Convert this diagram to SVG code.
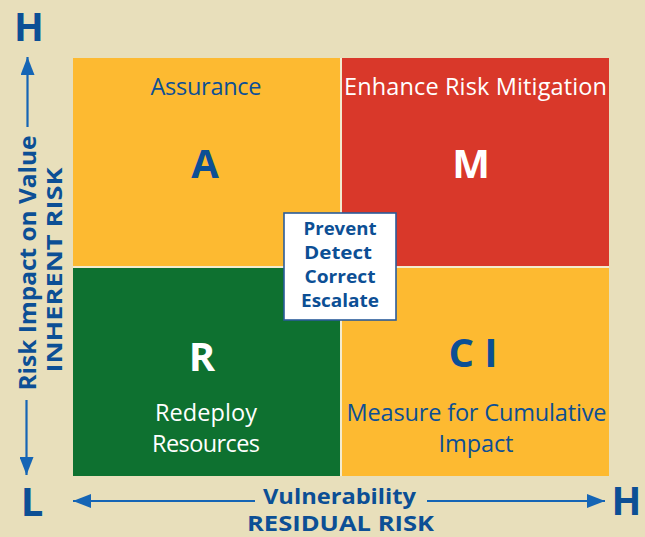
<svg xmlns="http://www.w3.org/2000/svg" width="645" height="537" viewBox="0 0 645 537">
  <defs>
    <style>
      .axis { font-family: "Open Sans", "Noto Sans", "Liberation Sans", sans-serif; font-weight: bold; fill: #0c4f95; }
      .cap { font-family: "Open Sans", "Noto Sans", "Liberation Sans", sans-serif; font-size: 23.5px; }
      .big { font-family: "Open Sans", "Noto Sans", "Liberation Sans", sans-serif; font-weight: bold; font-size: 40px; }
      .blue { fill: #0c4f95; }
      .white { fill: #ffffff; }
      .arrow { stroke: #1565b5; stroke-width: 2.2; fill: none; }
      .box { font-family: "Open Sans", "Noto Sans", "Liberation Sans", sans-serif; font-weight: bold; font-size: 18px; fill: #0c4f95; }
    </style>
    <marker id="ah" markerUnits="userSpaceOnUse" markerWidth="18" markerHeight="14" refX="18" refY="7" orient="auto">
      <path d="M0,0 L18,7 L0,14 z" fill="#1565b5"/>
    </marker>
  </defs>
  <rect x="0" y="0" width="645" height="537" fill="#e8dfbb"/>
  <rect x="73" y="58" width="536" height="418" fill="#f3ebcf"/>

  <g id="cell-A">
    <rect x="73" y="58" width="267" height="208" fill="#fdba31"/>
    <text class="cap blue" x="206" y="95" text-anchor="middle" textLength="111">Assurance</text>
    <text class="big blue" x="205" y="178" text-anchor="middle">A</text>
  </g>
  <g id="cell-M">
    <rect x="342" y="58" width="267" height="208" fill="#d9382a"/>
    <text class="cap white" x="475.5" y="95" text-anchor="middle" textLength="263">Enhance Risk Mitigation</text>
    <text class="big white" x="471" y="178" text-anchor="middle">M</text>
  </g>
  <g id="cell-R">
    <rect x="73" y="268" width="267" height="208" fill="#0e7130"/>
    <text class="big white" x="202" y="371" text-anchor="middle">R</text>
    <text class="cap white" x="206" y="421" text-anchor="middle" textLength="102">Redeploy</text>
    <text class="cap white" x="206" y="452" text-anchor="middle" textLength="108">Resources</text>
  </g>
  <g id="cell-CI">
    <rect x="342" y="268" width="267" height="208" fill="#fdba31"/>
    <text class="big blue" x="473" y="367" text-anchor="middle">C I</text>
    <text class="cap blue" x="476.5" y="421" text-anchor="middle" textLength="260">Measure for Cumulative</text>
    <text class="cap blue" x="476" y="452" text-anchor="middle" textLength="75">Impact</text>
  </g>
  <g id="center-box">
    <rect x="284" y="213" width="112" height="107" fill="#ffffff" stroke="#2b5c9a" stroke-width="1.6"/>
    <text class="box" x="340" y="235" text-anchor="middle" textLength="73" lengthAdjust="spacingAndGlyphs">Prevent</text>
    <text class="box" x="338" y="259" text-anchor="middle" textLength="68" lengthAdjust="spacingAndGlyphs">Detect</text>
    <text class="box" x="340" y="283" text-anchor="middle" textLength="71" lengthAdjust="spacingAndGlyphs">Correct</text>
    <text class="box" x="340" y="307" text-anchor="middle" textLength="78" lengthAdjust="spacingAndGlyphs">Escalate</text>
  </g>

  <g id="connectors">
    <line class="arrow" x1="27.5" y1="127" x2="27.5" y2="57" marker-end="url(#ah)"/>
    <line class="arrow" x1="26.5" y1="400" x2="26.5" y2="475" marker-end="url(#ah)"/>
    <line class="arrow" x1="255" y1="501" x2="73" y2="501" marker-end="url(#ah)"/>
    <line class="arrow" x1="427" y1="501" x2="605" y2="501" marker-end="url(#ah)"/>
  </g>

  <g id="axis-y">
    <text class="axis" x="29" y="41" font-size="39" text-anchor="middle">H</text>
    <text class="axis" x="32" y="516" font-size="40" text-anchor="middle">L</text>
    <text class="axis" transform="translate(36,263) rotate(-90)" font-size="23.5" text-anchor="middle" textLength="255" lengthAdjust="spacingAndGlyphs">Risk Impact on Value</text>
    <text class="axis" transform="translate(62,270) rotate(-90)" font-size="22" text-anchor="middle" textLength="205" lengthAdjust="spacingAndGlyphs">INHERENT RISK</text>
  </g>
  <g id="axis-x">
    <text class="axis" x="626.5" y="515" font-size="39" text-anchor="middle">H</text>
    <text class="axis" x="339.5" y="503.5" font-size="22" text-anchor="middle" textLength="153" lengthAdjust="spacingAndGlyphs">Vulnerability</text>
    <text class="axis" x="340.5" y="531" font-size="20.5" text-anchor="middle" textLength="187" lengthAdjust="spacingAndGlyphs">RESIDUAL RISK</text>
  </g>
</svg>
